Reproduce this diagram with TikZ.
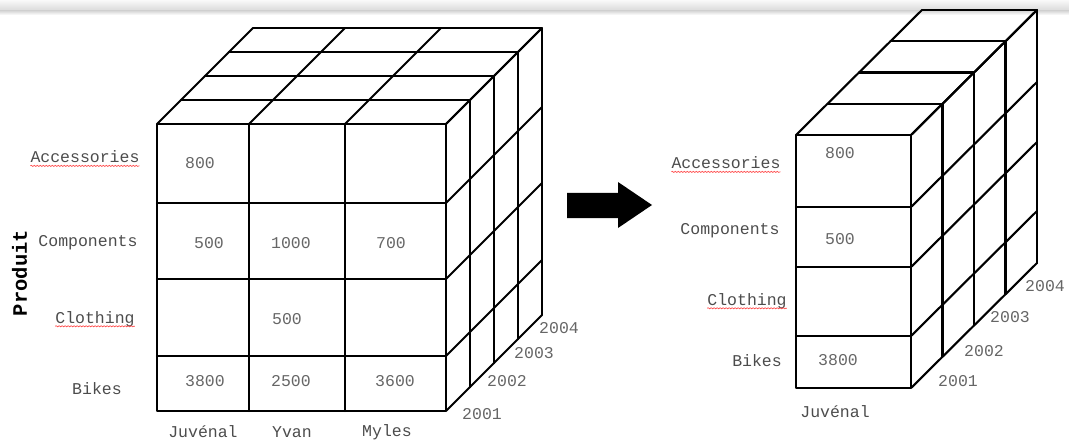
\documentclass[tikz,border=0pt]{standalone}
\usepackage{fontspec}
\setmonofont{Liberation Mono}
\usetikzlibrary{decorations.pathmorphing}
\tikzset{
	cube/.style={line width=2.1pt, line join=round, line cap=round},
	lbl/.style={font=\ttfamily\fontsize{16.5}{18}\selectfont, text=black!70, inner sep=0pt},
	val/.style={lbl, text=black!60},
	spell/.style={red!75, line width=0.6pt, decorate, decoration={snake, amplitude=0.6pt, segment length=3pt}}
}

\begin{document}
\begin{tikzpicture}[x=1pt, y=-1pt]
	\useasboundingbox (0,0) rectangle (1069,441);
	% shadow of the screenshot
	\shade[top color=gray!5, bottom color=gray!30] (0,0) rectangle (1069,11);
	\shade[top color=gray!30, bottom color=white] (0,11) rectangle (1069,15);

	% big cube : seller x product x year
	\def\dx{24} \def\dy{24}
	\draw[cube] (157,124) rectangle (446,411);
	\foreach \x in {249,345} \draw[cube] (\x,124) -- (\x,411);
	\foreach \y in {203,279,356} \draw[cube] (157,\y) -- (446,\y);
	\foreach \k in {1,...,4}
		\draw[cube] (157+\k*\dx,124-\k*\dy) -- (446+\k*\dx,124-\k*\dy) -- (446+\k*\dx,411-\k*\dy);
	\foreach \x in {157,249,345,446} \draw[cube] (\x,124) -- ++(4*\dx,-4*\dy);
	\foreach \y in {124,203,279,356,411} \draw[cube] (446,\y) -- ++(4*\dx,-4*\dy);

	\node[lbl] (accA) at (85,157) {Accessories};
	\node[lbl] (compA) at (88,243) {Components};
	\node[lbl] (clothA) at (95,319) {Clothing};
	\node[lbl] (bikesA) at (97,389) {Bikes};
	\draw[spell] ([yshift=-3pt]accA.base west) -- ([yshift=-3pt]accA.base east);
	\draw[spell] ([yshift=-3pt]clothA.base west) -- ([yshift=-3pt]clothA.base east);
	\node[font=\ttfamily\bfseries\fontsize{20.5}{22}\selectfont, rotate=90, inner sep=0pt] (produit) at (19.5,273) {Produit};

	\node[lbl] (juvA) at (203,432) {Juvénal};
	\node[lbl] (yvan) at (292,432) {Yvan};
	\node[lbl] (myles) at (387,432) {Myles};

	\node[val] (v1) at (200,163) {800};
	\node[val] (v2) at (209,243) {500};
	\node[val] (v3) at (291,243) {1000};
	\node[val] (v4) at (391,243) {700};
	\node[val] (v5) at (287,319) {500};
	\node[val] (v6) at (205,381) {3800};
	\node[val] (v7) at (291,381) {2500};
	\node[val] (v8) at (395,381) {3600};

	\foreach \yr/\px/\py in {2001/482/414, 2002/507/381, 2003/534/353, 2004/559/328}
		\node[val] (yA\yr) at (\px,\py) {\yr};

	% arrow
	\fill (567,193) -- (618,193) -- (618,182) -- (652,205) -- (618,228) -- (618,218) -- (567,218) -- cycle;

	% slice : Juvénal only
	\def\ex{31.5} \def\ey{31.25}
	\draw[cube] (796,135) rectangle (911,388);
	\foreach \y in {207,267,336} \draw[cube] (796,\y) -- (911,\y);
	\foreach \k in {1,...,4}
		\draw[cube] (796+\k*\ex,135-\k*\ey) -- (911+\k*\ex,135-\k*\ey) -- (911+\k*\ex,388-\k*\ey);
	\foreach \x in {796,911} \draw[cube] (\x,135) -- ++(4*\ex,-4*\ey);
	\foreach \y in {135,207,267,336,388} \draw[cube] (911,\y) -- ++(4*\ex,-4*\ey);

	\node[lbl] (accB) at (726,163) {Accessories};
	\node[lbl] (compB) at (730,231) {Components};
	\node[lbl] (clothB) at (747,301) {Clothing};
	\node[lbl] (bikesB) at (757,361) {Bikes};
	\draw[spell] ([yshift=-3pt]accB.base west) -- ([yshift=-3pt]accB.base east);
	\draw[spell] ([yshift=-3pt]clothB.base west) -- ([yshift=-3pt]clothB.base east);
	\node[lbl] (juvB) at (835,412) {Juvénal};

	\node[val] (w1) at (840,153) {800};
	\node[val] (w2) at (840,239) {500};
	\node[val] (w3) at (838,360) {3800};

	\foreach \yr/\px/\py in {2001/958/381, 2002/984/351, 2003/1010/317, 2004/1045/286}
		\node[val] (yB\yr) at (\px,\py) {\yr};
\end{tikzpicture}
\end{document}
